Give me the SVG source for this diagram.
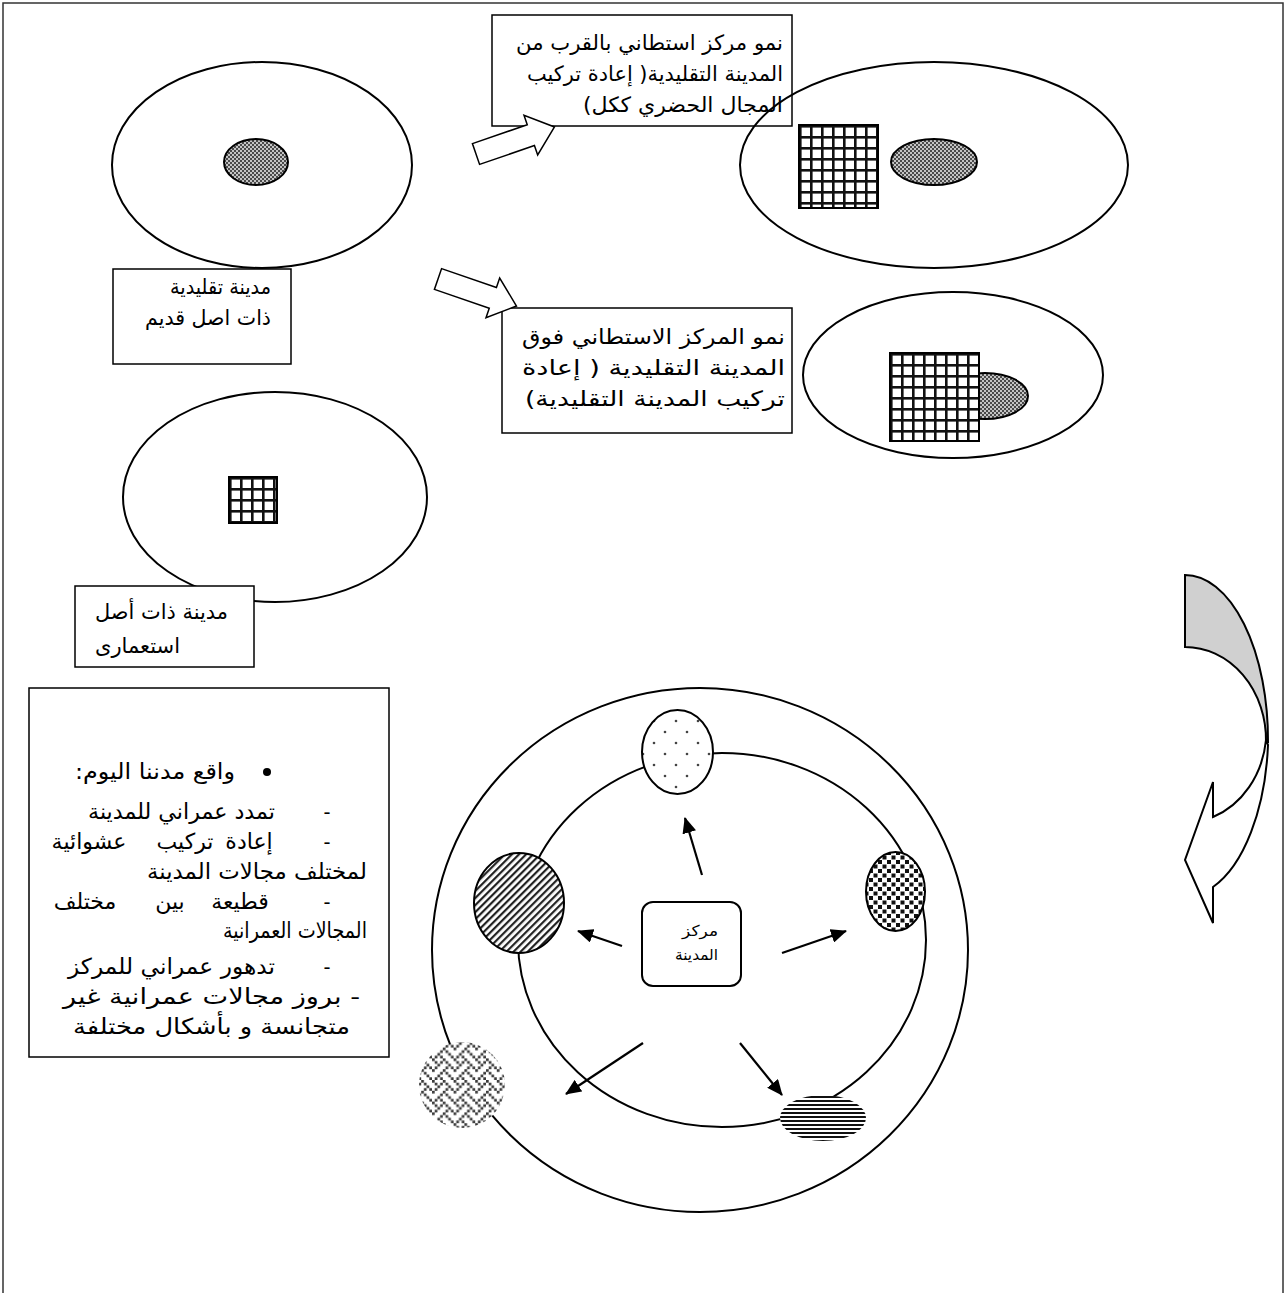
<svg xmlns="http://www.w3.org/2000/svg" width="1285" height="1293" viewBox="0 0 1285 1293">
  <style>
    .ln { fill: none; stroke: #000; stroke-width: 2; }
    .box { fill: #fff; stroke: #000; stroke-width: 1.5; }
    .ar { font-family: "DejaVu Sans", "Liberation Sans", sans-serif; font-size: 21px; fill: #000; direction: rtl; }
    .big { font-size: 22px; }
    .sm { font-size: 15px; }
    .r { text-anchor: start; }
    .l { text-anchor: end; }
    .m { text-anchor: middle; }
    .dash { font-family: "Liberation Sans", sans-serif; font-size: 21px; text-anchor: middle; }
    .conn { stroke: #000; stroke-width: 2.2; fill: none; marker-end: url(#tri); }
    .block { fill: #fff; stroke: #000; stroke-width: 1.5; stroke-linejoin: miter; }
  </style>
  <defs>
    <!-- old-town fill: fine grey dither -->
    <pattern id="dither" width="4" height="4" patternUnits="userSpaceOnUse">
      <rect width="4" height="4" fill="#c4c4c4"/>
      <rect width="2" height="2" fill="#4a4a4a"/>
      <rect x="2" y="2" width="2" height="2" fill="#4a4a4a"/>
    </pattern>
    <!-- colonial grid -->
    <pattern id="grid" width="11" height="11" patternUnits="userSpaceOnUse">
      <rect width="11" height="11" fill="#fff"/>
      <rect width="2.6" height="11" fill="#111"/>
      <rect width="11" height="2.6" fill="#111"/>
    </pattern>
    <pattern id="dots" width="22" height="22" patternUnits="userSpaceOnUse">
      <rect width="22" height="22" fill="#fff"/>
      <circle cx="5" cy="6" r="1.3" fill="#444"/>
      <circle cx="16" cy="17" r="1.3" fill="#444"/>
    </pattern>
    <pattern id="hatch" width="5" height="5" patternUnits="userSpaceOnUse" patternTransform="rotate(45)">
      <rect width="5" height="5" fill="#fff"/>
      <rect width="2.2" height="5" fill="#222"/>
    </pattern>
    <pattern id="checker" width="9" height="9" patternUnits="userSpaceOnUse">
      <rect width="9" height="9" fill="#fff"/>
      <rect x="0.5" y="0.5" width="4" height="4" fill="#111"/>
      <rect x="5" y="5" width="4" height="4" fill="#111"/>
    </pattern>
    <pattern id="stripes" width="4" height="4" patternUnits="userSpaceOnUse">
      <rect width="4" height="4" fill="#fff"/>
      <rect width="4" height="2" fill="#111"/>
    </pattern>
    <pattern id="weave" width="16" height="16" patternUnits="userSpaceOnUse" patternTransform="scale(1.35)">
      <rect width="16" height="16" fill="#fff"/>
      <g fill="#3a3a3a">
        <rect x="0" y="0" width="2" height="2"/><rect x="8" y="0" width="2" height="2"/>
        <rect x="2" y="2" width="2" height="2"/><rect x="6" y="2" width="2" height="2"/><rect x="10" y="2" width="2" height="2"/>
        <rect x="4" y="4" width="2" height="2"/><rect x="12" y="4" width="2" height="2"/>
        <rect x="2" y="6" width="2" height="2"/><rect x="10" y="6" width="2" height="2"/><rect x="14" y="6" width="2" height="2"/>
        <rect x="0" y="8" width="2" height="2"/><rect x="8" y="8" width="2" height="2"/>
        <rect x="6" y="10" width="2" height="2"/><rect x="10" y="10" width="2" height="2"/>
        <rect x="4" y="12" width="2" height="2"/><rect x="12" y="12" width="2" height="2"/>
        <rect x="2" y="14" width="2" height="2"/><rect x="6" y="14" width="2" height="2"/><rect x="14" y="14" width="2" height="2"/>
      </g>
    </pattern>
    <marker id="tri" viewBox="0 0 16 14" refX="15" refY="7" markerWidth="16" markerHeight="14" markerUnits="userSpaceOnUse" orient="auto">
      <path d="M0,0 L16,7 L0,14 Z" fill="#000"/>
    </marker>
    <path id="blockArrow" d="M0,-11 L58,-11 L58,-21 L83,0 L58,21 L58,11 L0,11 Z"/>
  </defs>

  <rect width="1285" height="1293" fill="#fff"/>
  <!-- page frame -->
  <rect x="3" y="3" width="1280" height="1310" fill="none" stroke="#333" stroke-width="1.5"/>

  <!-- traditional city -->
  <g id="traditional-city">
    <ellipse class="ln" cx="262" cy="165" rx="150" ry="103"/>
    <ellipse cx="256" cy="162" rx="32" ry="23" fill="url(#dither)" stroke="#000" stroke-width="2"/>
  </g>
  <g id="traditional-label">
    <rect class="box" x="113" y="269" width="178" height="95"/>
    <text class="ar r" x="271" y="294" textLength="101" lengthAdjust="spacingAndGlyphs">مدينة تقليدية</text>
    <text class="ar r" x="271" y="325" textLength="126" lengthAdjust="spacingAndGlyphs">ذات اصل قديم</text>
  </g>

  <!-- colonial city -->
  <g id="colonial-city">
    <ellipse class="ln" cx="275" cy="497" rx="152" ry="105"/>
    <g transform="translate(229,477)">
      <rect width="48" height="46" fill="url(#grid)" stroke="#000" stroke-width="2"/>
    </g>
  </g>
  <g id="colonial-label">
    <rect class="box" x="75" y="586" width="179" height="81"/>
    <text class="ar r" x="228" y="619" textLength="133" lengthAdjust="spacingAndGlyphs">مدينة ذات أصل</text>
    <text class="ar l" x="95" y="653">استعمارى</text>
  </g>

  <!-- growth beside the old town -->
  <g id="beside-label">
    <rect class="box" x="492" y="15" width="300" height="111"/>
    <text class="ar r" x="783" y="50" textLength="267" lengthAdjust="spacingAndGlyphs">نمو مركز استطاني بالقرب من</text>
    <text class="ar r" x="783" y="81" textLength="256" lengthAdjust="spacingAndGlyphs">المدينة التقليدية( إعادة تركيب</text>
    <text class="ar r" x="783" y="112" textLength="200" lengthAdjust="spacingAndGlyphs">المجال الحضري ككل)</text>
  </g>
  <g id="beside-city">
    <ellipse class="ln" cx="934" cy="165" rx="194" ry="103"/>
    <g transform="translate(799,125)">
      <rect width="79" height="83" fill="url(#grid)" stroke="#000" stroke-width="2"/>
    </g>
    <ellipse cx="934" cy="162" rx="43" ry="23" fill="url(#dither)" stroke="#000" stroke-width="2"/>
  </g>

  <!-- growth over the old town -->
  <g id="over-label">
    <rect class="box" x="502" y="308" width="290" height="125"/>
    <text class="ar r" x="785" y="344" textLength="263" lengthAdjust="spacingAndGlyphs">نمو المركز الاستطاني فوق</text>
    <text class="ar r" x="785" y="375" textLength="263" lengthAdjust="spacingAndGlyphs">المدينة التقليدية ( إعادة</text>
    <text class="ar r" x="785" y="406" textLength="260" lengthAdjust="spacingAndGlyphs">تركيب المدينة التقليدية)</text>
  </g>
  <g id="over-city">
    <ellipse class="ln" cx="953" cy="375" rx="150" ry="83"/>
    <ellipse cx="985" cy="396" rx="43" ry="23" fill="url(#dither)" stroke="#000" stroke-width="2"/>
    <g transform="translate(890,353)">
      <rect width="89" height="88" fill="url(#grid)" stroke="#000" stroke-width="2"/>
    </g>
  </g>

  <!-- present-day city -->
  <g id="today-list">
    <rect class="box" x="29" y="688" width="360" height="369"/>
    <circle cx="267" cy="772" r="4" fill="#000"/>
    <text class="ar big r" x="235" y="779" textLength="160" lengthAdjust="spacingAndGlyphs">واقع مدننا اليوم:</text>
    <text class="dash" x="327" y="819">-</text>
    <text class="ar big r" x="275" y="819" textLength="187" lengthAdjust="spacingAndGlyphs">تمدد عمراني للمدينة</text>
    <text class="dash" x="327" y="849">-</text>
    <text class="ar big m" x="249" y="849">إعادة</text>
    <text class="ar big m" x="185" y="849">تركيب</text>
    <text class="ar big m" x="89" y="849">عشوائية</text>
    <text class="ar big r" x="367" y="879" textLength="220" lengthAdjust="spacingAndGlyphs">لمختلف مجالات المدينة</text>
    <text class="dash" x="327" y="909">-</text>
    <text class="ar big m" x="240" y="909">قطيعة</text>
    <text class="ar big m" x="170" y="909">بين</text>
    <text class="ar big m" x="85" y="909">مختلف</text>
    <text class="ar big r" x="367" y="938" textLength="144" lengthAdjust="spacingAndGlyphs">المجالات العمرانية</text>
    <text class="dash" x="327" y="974">-</text>
    <text class="ar big r" x="275" y="974" textLength="207" lengthAdjust="spacingAndGlyphs">تدهور عمراني للمركز</text>
    <text class="ar big r" x="360" y="1004" textLength="297" lengthAdjust="spacingAndGlyphs">- بروز مجالات عمرانية غير</text>
    <text class="ar big r" x="350" y="1034" textLength="277" lengthAdjust="spacingAndGlyphs">متجانسة و بأشكال مختلفة</text>
  </g>

  <g id="city-rings">
    <ellipse class="ln" cx="700" cy="950" rx="268" ry="262"/>
    <ellipse class="ln" cx="722" cy="940" rx="204" ry="187"/>
  </g>
  <g id="zone-dotted">
    <ellipse cx="677.5" cy="752" rx="35.5" ry="42" fill="url(#dots)" stroke="#000" stroke-width="2"/>
  </g>
  <g id="zone-hatched">
    <ellipse cx="519" cy="903" rx="45" ry="50" fill="url(#hatch)" stroke="#000" stroke-width="2"/>
  </g>
  <g id="zone-checkered">
    <ellipse cx="895.5" cy="891.5" rx="29.5" ry="39.5" fill="url(#checker)" stroke="#000" stroke-width="2"/>
  </g>
  <g id="zone-woven">
    <ellipse cx="462" cy="1085" rx="43" ry="43" fill="url(#weave)"/>
  </g>
  <g id="zone-striped">
    <ellipse cx="823" cy="1118" rx="43" ry="23" fill="url(#stripes)"/>
  </g>
  <g id="city-centre">
    <rect x="642" y="902" width="99" height="84" rx="11" fill="#fff" stroke="#000" stroke-width="2"/>
    <text class="ar sm r" x="718" y="936" textLength="36" lengthAdjust="spacingAndGlyphs">مركز</text>
    <text class="ar sm r" x="718" y="960" textLength="43" lengthAdjust="spacingAndGlyphs">المدينة</text>
  </g>

  <!-- connectors -->
  <g id="connectors">
    <use href="#blockArrow" class="block" transform="translate(476,154) rotate(-19)"/>
    <use href="#blockArrow" class="block" transform="translate(438,279) rotate(19)"/>
    <!-- curved return arrow on the right -->
    <path d="M1185,575 A83,165 0 0 1 1268,742 L1266,742 A81,93 0 0 0 1185,647 Z" fill="#d0d0d0" stroke="#000" stroke-width="2"/>
    <path d="M1266,740 A81,93 0 0 1 1213,817 L1213,782 L1185,860 L1213,923 L1213,887 A83,165 0 0 0 1268,745 Z" fill="#fff" stroke="#000" stroke-width="2" stroke-linejoin="miter"/>
    <line class="conn" x1="702" y1="875" x2="685" y2="818"/>
    <line class="conn" x1="622" y1="946" x2="578" y2="931"/>
    <line class="conn" x1="782" y1="953" x2="846" y2="931"/>
    <line class="conn" x1="643" y1="1043" x2="566" y2="1094"/>
    <line class="conn" x1="740" y1="1043" x2="782" y2="1095"/>
  </g>
</svg>
